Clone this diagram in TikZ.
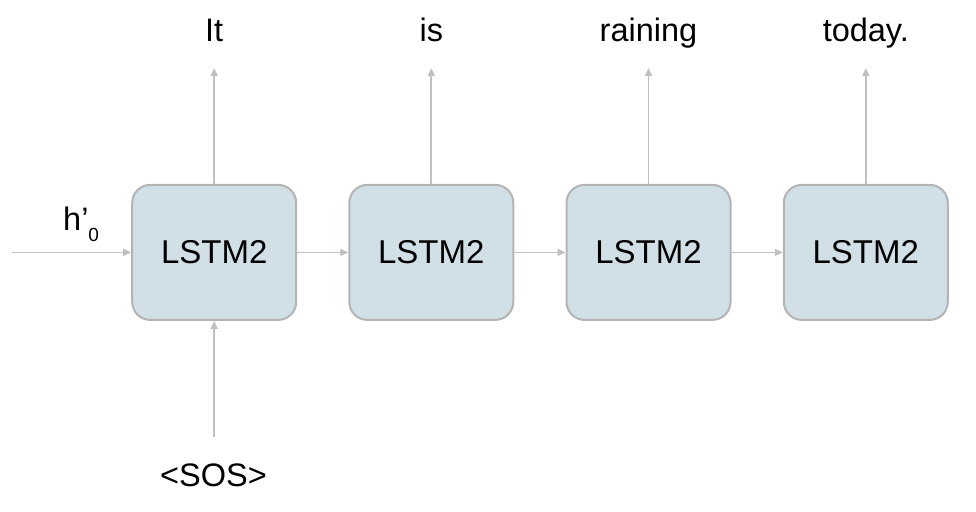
\documentclass[tikz,border=0pt]{standalone}
\usepackage{fontspec}
\setmainfont{Liberation Sans}
\usetikzlibrary{arrows.meta}
\definecolor{boxfill}{RGB}{209,223,230}
\definecolor{boxline}{RGB}{180,180,180}
\definecolor{arrowcol}{RGB}{192,192,192}
\tikzset{
  lstm/.style={draw=boxline, line width=2pt, fill=boxfill, rounded corners=18pt,
    minimum width=164pt, minimum height=135pt, inner sep=0pt,
    font=\fontsize{33}{33}\selectfont},
  word/.style={anchor=base, inner sep=0pt, font=\fontsize{32.5}{32.5}\selectfont},
  conn/.style={draw=arrowcol, line width=1.8pt,
    -{Triangle[length=8pt,width=7pt]}}
}
\begin{document}
\begin{tikzpicture}[x=1pt,y=-1pt]
\useasboundingbox (0,0) rectangle (976,511);
% boxes
\node[lstm] (b1) at (214.2,252.4) {LSTM2};
\node[lstm] (b2) at (431.3,252.4) {LSTM2};
\node[lstm] (b3) at (648.5,252.4) {LSTM2};
\node[lstm] (b4) at (865.8,252.4) {LSTM2};
% output words
\node[word] (w1) at (214.2,41.7) {It};
\node[word] (w2) at (431.3,41.7) {is};
\node[word] (w3) at (648.5,41.7) {raining};
\node[word] (w4) at (865.8,41.7) {today.};
\coordinate (t1) at (214.2,68);
\coordinate (t2) at (431.3,68);
\coordinate (t3) at (648.5,68);
\coordinate (t4) at (865.8,68);
\draw[conn] (b1.north) -- (t1);
\draw[conn] (b2.north) -- (t2);
\draw[conn] (b3.north) -- (t3);
\draw[conn] (b4.north) -- (t4);
% recurrent arrows
\draw[conn] (b1.east) -- (b2.west);
\draw[conn] (b2.east) -- (b3.west);
\draw[conn] (b3.east) -- (b4.west);
% initial hidden state
\coordinate (h0s) at (12,252.4);
\draw[conn] (h0s) -- (b1.west);
\node[anchor=base west, inner sep=0pt, font=\fontsize{32.5}{32.5}\selectfont] (h0) at (63,230)
  {h\textquoteright\raisebox{-11.5pt}{\fontsize{19}{19}\selectfont 0}};
% SOS input
\node[word] (sos) at (213.5,486.5) {<SOS>};
\coordinate (s0) at (214.2,436.7);
\draw[conn] (s0) -- (b1.south);
\end{tikzpicture}
\end{document}
